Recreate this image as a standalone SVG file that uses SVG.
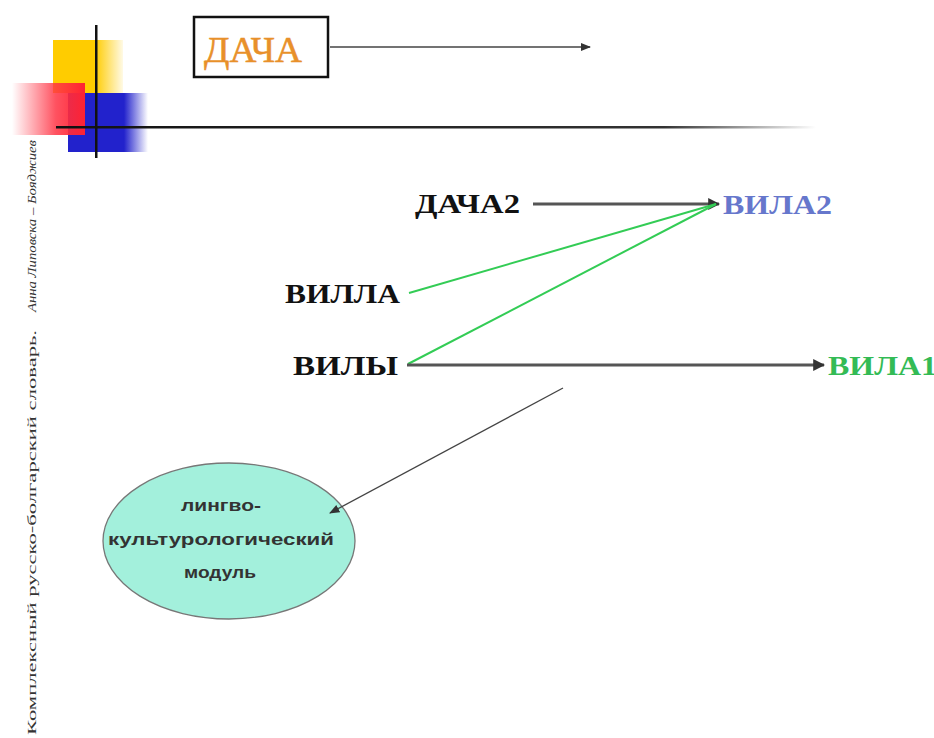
<svg xmlns="http://www.w3.org/2000/svg" width="934" height="738" viewBox="0 0 934 738">
  <style>
    .word { font-weight: bold; font-size: 27px; }
    .oval-text { font-weight: bold; font-size: 17px; fill: #333; text-anchor: middle; }
    .link-dark { stroke: #555; stroke-width: 3; fill: none; }
    .link-green { stroke: #33cc55; stroke-width: 2; fill: none; }
    .link-thin { stroke: #444; stroke-width: 1.3; fill: none; }
    .side { font-size: 12px; fill: #333; }
  </style>
  <defs>
    <marker id="arrow" viewBox="0 0 10 10" refX="9" refY="5" markerWidth="4" markerHeight="4" orient="auto" markerUnits="strokeWidth">
      <path d="M0,0 L10,5 L0,10 z" fill="#333"/>
    </marker>
    <marker id="arrowSmall" viewBox="0 0 10 10" refX="9" refY="5" markerWidth="8" markerHeight="8" orient="auto" markerUnits="strokeWidth">
      <path d="M0,1 L10,5 L0,9 z" fill="#333"/>
    </marker>
    <linearGradient id="yellowFade" x1="0" y1="0" x2="1" y2="0">
      <stop offset="0" stop-color="#ffcc00"/>
      <stop offset="0.6" stop-color="#ffcc00"/>
      <stop offset="1" stop-color="#ffcc00" stop-opacity="0.1"/>
    </linearGradient>
    <linearGradient id="redFade" x1="0" y1="0" x2="1" y2="0">
      <stop offset="0" stop-color="#ff3344" stop-opacity="0"/>
      <stop offset="0.6" stop-color="#ff3344" stop-opacity="0.85"/>
      <stop offset="1" stop-color="#ff2233"/>
    </linearGradient>
    <linearGradient id="blueFade" x1="0" y1="0" x2="1" y2="0">
      <stop offset="0" stop-color="#2222cc"/>
      <stop offset="0.7" stop-color="#2222cc"/>
      <stop offset="1" stop-color="#2222cc" stop-opacity="0"/>
    </linearGradient>
    <linearGradient id="ruleFade" x1="0" y1="0" x2="1" y2="0">
      <stop offset="0" stop-color="#111"/>
      <stop offset="0.8" stop-color="#333"/>
      <stop offset="1" stop-color="#333" stop-opacity="0"/>
    </linearGradient>
  </defs>

  <rect width="934" height="738" fill="#ffffff"/>

  <!-- corner logo -->
  <g id="logo">
    <rect x="53" y="40" width="70" height="53" fill="url(#yellowFade)"/>
    <rect x="68" y="93" width="80" height="59" fill="url(#blueFade)"/>
    <rect x="12" y="83" width="73" height="52" fill="url(#redFade)"/>
    <rect x="56" y="126" width="760" height="2.5" fill="url(#ruleFade)"/>
    <rect x="95" y="25" width="2.5" height="133" fill="#111"/>
  </g>

  <!-- side caption -->
  <g id="caption">
    <text class="side" font-family="'Liberation Serif', 'DejaVu Serif', serif" transform="translate(36,735) rotate(-90)" textLength="405" lengthAdjust="spacingAndGlyphs">Комплексный русско-болгарский словарь.</text>
    <text class="side" font-family="'Liberation Serif', 'DejaVu Serif', serif" font-style="italic" transform="translate(36,312) rotate(-90)" textLength="172" lengthAdjust="spacingAndGlyphs">Анна Липовска – Бояджиев</text>
  </g>

  <g id="dacha">
    <rect x="194" y="17" width="134" height="60" fill="#fff" stroke="#111" stroke-width="2.5"/>
    <text x="204" y="62" font-family="'Liberation Serif', 'DejaVu Serif', serif" font-size="35" fill="#e8902a" stroke="#e8902a" stroke-width="0.5" textLength="98" lengthAdjust="spacingAndGlyphs">ДАЧА</text>
  </g>

  <g id="dacha2">
    <text class="word" font-family="'Liberation Serif', 'DejaVu Serif', serif" x="415" y="213" fill="#111" textLength="105" lengthAdjust="spacingAndGlyphs">ДАЧА2</text>
  </g>

  <g id="vila2">
    <text class="word" font-family="'Liberation Serif', 'DejaVu Serif', serif" x="723" y="214" fill="#6677cc" textLength="109" lengthAdjust="spacingAndGlyphs">ВИЛА2</text>
  </g>

  <g id="villa">
    <text class="word" font-family="'Liberation Serif', 'DejaVu Serif', serif" x="285" y="303" fill="#111" textLength="115" lengthAdjust="spacingAndGlyphs">ВИЛЛА</text>
  </g>

  <g id="vily">
    <text class="word" font-family="'Liberation Serif', 'DejaVu Serif', serif" x="293" y="375" fill="#111" textLength="105" lengthAdjust="spacingAndGlyphs">ВИЛЫ</text>
  </g>

  <g id="vila1">
    <text class="word" font-family="'Liberation Serif', 'DejaVu Serif', serif" x="828" y="375" fill="#33bb55" textLength="109" lengthAdjust="spacingAndGlyphs">ВИЛА1</text>
  </g>

  <g id="module">
    <ellipse cx="229" cy="541" rx="126" ry="78" fill="#a3f0dc" stroke="#777" stroke-width="1.3"/>
    <text class="oval-text" font-family="'Liberation Sans', Arial, sans-serif" x="221" y="511" textLength="80" lengthAdjust="spacingAndGlyphs">лингво-</text>
    <text class="oval-text" font-family="'Liberation Sans', Arial, sans-serif" x="221" y="545" textLength="226" lengthAdjust="spacingAndGlyphs">культурологический</text>
    <text class="oval-text" font-family="'Liberation Sans', Arial, sans-serif" x="220" y="578" textLength="72" lengthAdjust="spacingAndGlyphs">модуль</text>
  </g>

  <!-- connectors -->
  <g id="connectors">
    <line class="link-thin" x1="330" y1="47" x2="590" y2="47" marker-end="url(#arrowSmall)"/>
    <line class="link-dark" x1="533" y1="204" x2="719" y2="204" marker-end="url(#arrow)"/>
    <line class="link-green" x1="409" y1="293" x2="716" y2="204"/>
    <line class="link-green" x1="408" y1="364" x2="716" y2="204"/>
    <line class="link-dark" x1="407" y1="365" x2="824" y2="365" marker-end="url(#arrow)"/>
    <line class="link-thin" x1="563" y1="388" x2="330" y2="513" marker-end="url(#arrowSmall)"/>
  </g>
</svg>
